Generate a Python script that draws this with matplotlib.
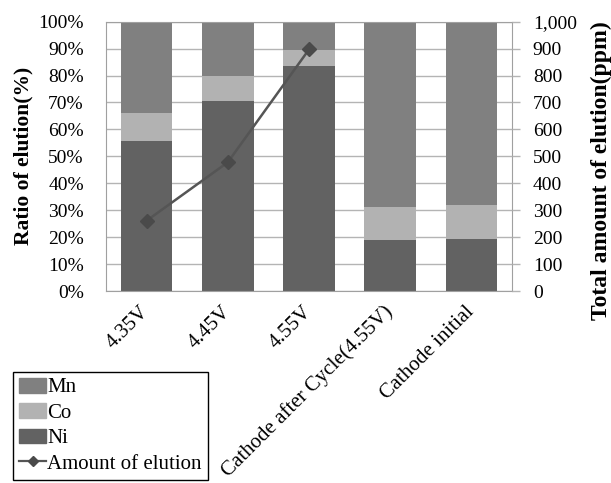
import numpy as np
import matplotlib
matplotlib.use("Agg")
import matplotlib.pyplot as plt
from matplotlib.patches import Patch
from matplotlib.lines import Line2D
from matplotlib.ticker import FuncFormatter, MultipleLocator

categories = ["4.35V", "4.45V", "4.55V", "Cathode after Cycle(4.55V)", "Cathode initial"]
ni = [55.7, 70.7, 83.5, 18.9, 19.2]
co = [10.5, 9.1, 6.0, 12.2, 12.7]
mn = [33.8, 20.2, 10.5, 68.9, 68.1]
amount_cats = [0, 1, 2]
amount = [261, 478, 897]

plt.rcParams['font.family'] = ['Liberation Serif', 'DejaVu Serif']
FS = 14

fig = plt.figure(figsize=(6.11, 4.83), dpi=100)
ax = fig.add_axes([106/611, 1-291/483, (512-106)/611, (291-21.7)/483])
x = np.arange(len(categories))
w = 0.635
c_ni, c_co, c_mn = '#626262', '#b2b2b2', '#808080'
ax.bar(x, ni, w, color=c_ni, zorder=2)
ax.bar(x, co, w, bottom=ni, color=c_co, zorder=2)
ax.bar(x, mn, w, bottom=np.array(ni)+np.array(co), color=c_mn, zorder=2)
ax.set_xlim(-0.5, len(categories)-0.5)
ax.set_ylim(0, 100)
ax.yaxis.set_major_locator(MultipleLocator(10))
ax.yaxis.set_major_formatter(FuncFormatter(lambda v, p: f"{int(round(v))}%"))
ax.set_axisbelow(True)
ax.grid(axis='y', color='#b4b4b4', lw=1.0, zorder=0)
for s in ax.spines.values():
    s.set_color('#a0a0a0')
ax.tick_params(axis='y', length=0, pad=16, labelsize=FS)
ax.set_xticks(x)
ax.set_xticklabels(categories, rotation=45, ha='right', va='center', rotation_mode='anchor', fontsize=15)
ax.tick_params(axis='x', length=0, pad=13)

ax2 = ax.twinx()
ax2.set_ylim(0, 1000)
ax2.yaxis.set_major_locator(MultipleLocator(100))
ax2.yaxis.set_major_formatter(FuncFormatter(lambda v, p: f"{int(round(v)):,}"))
ax2.tick_params(axis='y', length=6, width=1, color='#b4b4b4', pad=9, labelsize=FS)
for s in ax2.spines.values():
    s.set_visible(False)

lc = '#555555'
ax2.plot(amount_cats, amount, color=lc, lw=1.8, marker='D', markersize=7,
         markerfacecolor='#4a4a4a', markeredgecolor='#4a4a4a', zorder=4)

fig.text(23/611, 1-156/483, "Ratio of elution(%)", rotation=90, ha='center', va='center',
         fontsize=15.5, fontweight='bold')
fig.text(601/611, 1-171/483, "Total amount of elution(ppm)", rotation=90, ha='center', va='center',
         fontsize=17, fontweight='bold')

handles = [Patch(color=c_mn), Patch(color=c_co), Patch(color=c_ni),
           Line2D([], [], color=lc, lw=1.6, marker='D', markersize=5, markerfacecolor='#4a4a4a', markeredgecolor='#4a4a4a')]
labels = ["Mn", "Co", "Ni", "Amount of elution"]
leg = fig.legend(handles, labels, loc='lower left', bbox_to_anchor=(13/611, 3/483),
                 bbox_transform=fig.transFigure, borderaxespad=0, fancybox=False,
                 frameon=True, edgecolor='black', fontsize=15, handlelength=1.3,
                 handletextpad=0.05, labelspacing=0.28, borderpad=0.3, framealpha=1)
leg.get_frame().set_linewidth(1.0)

fig.savefig("out.png", dpi=100)
